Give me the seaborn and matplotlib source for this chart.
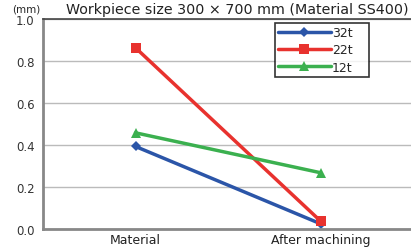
import matplotlib
matplotlib.use("Agg")
import matplotlib.pyplot as plt
import seaborn as sns
import pandas as pd

stages = ["Material", "After machining"]
series = ["32t", "22t", "12t"]
vals_32t = [0.393, 0.025]
vals_22t = [0.863, 0.038]
vals_12t = [0.458, 0.268]
colors = ["#2b55a8", "#e8322e", "#3bb04f"]
markers = ["D", "s", "^"]
msizes = [5, 7, 7]

df = pd.DataFrame({
    "stage": stages * 3,
    "series": [s for s in series for _ in stages],
    "value": vals_32t + vals_22t + vals_12t,
})

sns.set_style("white")
plt.rcParams["font.family"] = ["DejaVu Sans"]

fig = plt.figure(figsize=(4.11, 2.53), dpi=100)
ax = fig.add_axes([43 / 411, 23 / 253, 370 / 411, 210 / 253])

sns.lineplot(data=df, x="stage", y="value", hue="series", style="series",
             palette=colors, markers=markers, dashes=False, lw=2.5,
             markeredgewidth=0, ax=ax, sort=False)

# per-series marker sizes
for line, ms in zip(ax.get_lines(), msizes):
    line.set_markersize(ms)

ax.set_xlim(-0.5, 1.5)
ax.set_ylim(0, 1.0)
ax.set_yticks([0, 0.2, 0.4, 0.6, 0.8, 1.0])
ax.set_yticklabels(["0.0", "0.2", "0.4", "0.6", "0.8", "1.0"], fontsize=8.5, color="#333333")
ax.set_xticks([0, 1])
ax.set_xticklabels(stages, fontsize=9, color="#222222")
ax.set_xticks([0.5], minor=True)
ax.tick_params(axis="x", which="major", length=0, pad=3)
ax.tick_params(axis="x", which="minor", length=3, color="#999999")
ax.tick_params(axis="y", length=4, color="#888888", pad=2)
ax.set_xlabel("")
ax.set_ylabel("")
ax.grid(axis="y", color="#bbbbbb", lw=1)
ax.set_axisbelow(True)

for side in ["left", "bottom"]:
    ax.spines[side].set_color("#888888")
    ax.spines[side].set_linewidth(2)
ax.spines["top"].set_color("#444444")
ax.spines["top"].set_linewidth(1.2)
ax.spines["right"].set_visible(False)

leg = ax.legend(loc="upper left", bbox_to_anchor=(232 / 370, 0.981, 94 / 370, 0.0),
                mode="expand", fontsize=9,
                frameon=True, fancybox=False, edgecolor="black",
                handlelength=4.2, borderpad=0.25, labelspacing=0.35, handletextpad=0.1,
                borderaxespad=0)
leg.get_frame().set_linewidth(1.2)
for h, ms in zip(leg.legend_handles, msizes):
    h.set_markersize(ms)
    h.set_linewidth(2.5)

fig.text(237 / 411, 1 - 10 / 253, "Workpiece size 300 × 700 mm (Material SS400)",
         ha="center", va="center", fontsize=10.3, color="#222222")
fig.text(12 / 411, 1 - 9 / 253, "(mm)", ha="left", va="center", fontsize=7.5)

fig.savefig("out.png", dpi=100)
